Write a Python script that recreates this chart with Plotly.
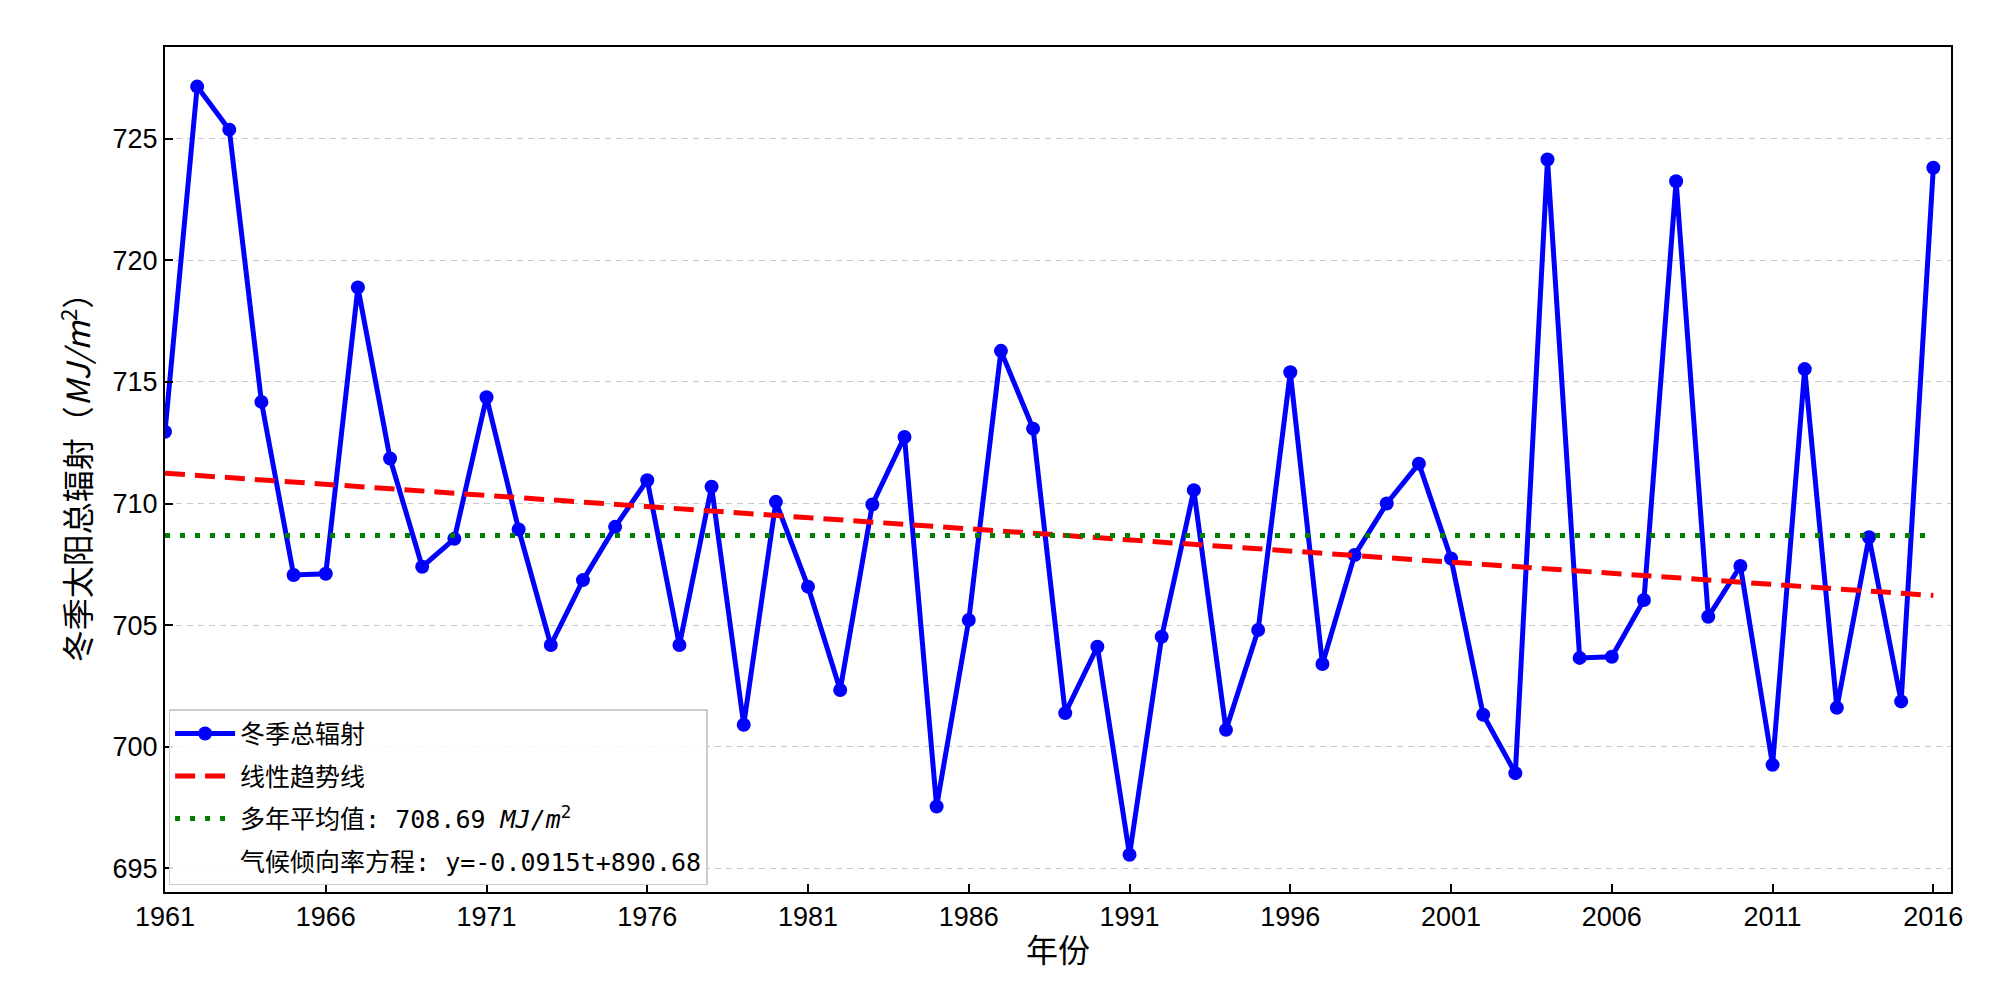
import plotly.graph_objects as go

years = list(range(1961, 2017))
radiation = [
    712.95, 727.15, 725.38, 714.18, 707.06, 707.11, 718.89, 711.85, 707.40, 708.55,
    714.37, 708.93, 704.18, 706.85, 709.04, 710.96, 704.18, 710.69, 700.90, 710.07,
    706.58, 702.33, 709.96, 712.74, 697.54, 705.21, 716.28, 713.08, 701.38, 704.11,
    695.55, 704.52, 710.55, 700.69, 704.80, 715.40, 703.40, 707.88, 710.00, 711.64,
    707.74, 701.31, 698.91, 724.15, 703.65, 703.70, 706.03, 723.26, 705.34, 707.43,
    699.25, 715.53, 701.60, 708.61, 701.86, 723.81,
]
trend_slope = -0.0915
trend_intercept = 890.68
mean_value = 708.69
x_ticks = list(range(1961, 2017, 5))
y_ticks = [695, 700, 705, 710, 715, 720, 725]

trend = [trend_slope * t + trend_intercept for t in years]
mean_line = [mean_value for _ in years]

CJK = "Noto Sans CJK SC"
LEGEND_FONT = "DejaVu Sans Mono, Noto Sans CJK SC"

fig = go.Figure()
fig.add_trace(go.Scatter(
    x=years, y=radiation, mode="lines+markers", name="冬季总辐射",
    legendgroup="g1",
    line=dict(color="#0000ff", width=5),
    marker=dict(color="#0000ff", size=14),
))
fig.add_trace(go.Scatter(
    x=years, y=trend, mode="lines", name="线性趋势线",
    legendgroup="g2",
    line=dict(color="#ff0000", width=5, dash="20px,10px"),
))
fig.add_trace(go.Scatter(
    x=years, y=mean_line, mode="lines",
    name=f"多年平均值: {mean_value:.2f} <i>MJ/m</i><sup>2</sup>",
    legendgroup="g3",
    line=dict(color="#007f00", width=5, dash="5px,10px"),
))
fig.add_trace(go.Scatter(
    x=[None], y=[None], mode="lines",
    name=f"气候倾向率方程: y={trend_slope}t+{trend_intercept}",
    legendgroup="g4",
    line=dict(color="rgba(0,0,0,0)", width=0),
))

fig.update_layout(
    width=2000, height=1000,
    margin=dict(l=157, r=57, t=39, b=116),
    paper_bgcolor="white", plot_bgcolor="white",
    font=dict(family=CJK, color="black"),
    showlegend=True,
    legend=dict(
        x=0.002, y=0.008, xanchor="left", yanchor="bottom",
        bgcolor="rgba(255,255,255,0.85)", bordercolor="#cccccc", borderwidth=1.5,
        font=dict(family=LEGEND_FONT, size=25, color="black"),
        itemwidth=60, traceorder="grouped", tracegroupgap=7,
    ),
    xaxis=dict(
        range=[1961, 2016.55],
        tickmode="array", tickvals=x_ticks, ticktext=[str(v) for v in x_ticks],
        ticks="inside", ticklen=8, tickwidth=1.5, tickcolor="black",
        showline=True, linecolor="black", linewidth=2, mirror=True,
        showgrid=False, zeroline=False,
        tickfont=dict(family="Liberation Sans", size=27, color="black"),
        title=dict(text="年份", font=dict(family=CJK, size=32, color="black"), standoff=8),
    ),
    yaxis=dict(
        range=[694.02, 728.78],
        tickmode="array", tickvals=y_ticks, ticktext=[str(v) for v in y_ticks],
        ticks="inside", ticklen=8, tickwidth=1.5, tickcolor="black",
        showline=True, linecolor="black", linewidth=2, mirror=True,
        showgrid=True, gridcolor="#c8c8c8", gridwidth=1.2, griddash="6px,5px",
        zeroline=False,
        tickfont=dict(family="Liberation Sans", size=27, color="black"),
        title=dict(text="冬季太阳总辐射（<i>MJ/m</i><sup>2</sup>）",
                   font=dict(family=CJK, size=32, color="black"), standoff=12),
    ),
)

fig.write_html("out.html")
